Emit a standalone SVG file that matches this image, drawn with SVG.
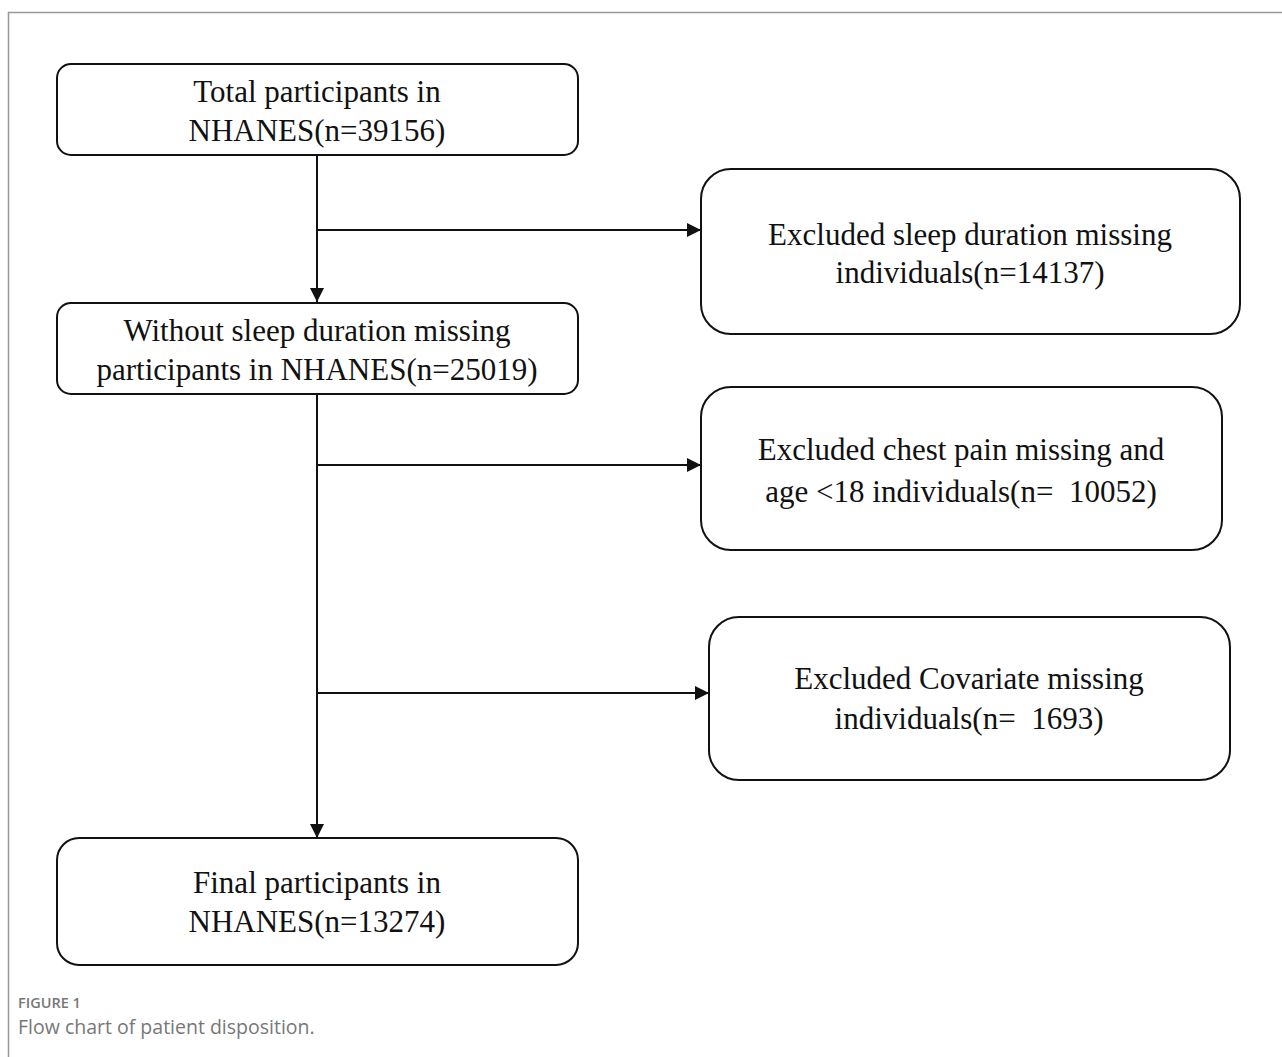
<svg xmlns="http://www.w3.org/2000/svg" width="1282" height="1057" viewBox="0 0 1282 1057" xml:space="preserve">
<style>
.box{fill:#fff;stroke:#111;stroke-width:2}
.t{font-family:"Liberation Serif","Times New Roman",serif;font-size:31px;fill:#111;text-anchor:middle;white-space:pre}
.c{stroke:#111;stroke-width:2;fill:none}
.cap1{font-family:"Open Sans","Noto Sans",sans-serif;font-size:14.5px;fill:#777;font-weight:600}
.cap2{font-family:"Open Sans","Noto Sans",sans-serif;font-size:19.5px;fill:#777}
</style>
<defs>
<marker id="arr" viewBox="0 0 10 10" refX="10" refY="5" markerWidth="15" markerHeight="14" markerUnits="userSpaceOnUse" orient="auto">
<path d="M0,0 L10,5 L0,10 z" fill="#111"/>
</marker>
</defs>
<rect width="1282" height="1057" fill="#fff"/>
<path d="M8.5,1057 V12.5 H1282" fill="none" stroke="#999" stroke-width="1.5"/>
<g id="connectors">
<line class="c" x1="317" y1="155" x2="317" y2="302" marker-end="url(#arr)"/>
<line class="c" x1="317" y1="230" x2="701" y2="230" marker-end="url(#arr)"/>
<line class="c" x1="317" y1="394" x2="317" y2="838" marker-end="url(#arr)"/>
<line class="c" x1="317" y1="465" x2="701" y2="465" marker-end="url(#arr)"/>
<line class="c" x1="317" y1="693" x2="709" y2="693" marker-end="url(#arr)"/>
</g>
<g id="n1">
<rect class="box" x="57" y="64" width="521" height="91" rx="14"/>
<text class="t" x="317" y="102">Total participants in</text>
<text class="t" x="317" y="141">NHANES(n=39156)</text>
</g>
<g id="n2">
<rect class="box" x="701" y="169" width="539" height="165" rx="30"/>
<text class="t" x="970" y="245">Excluded sleep duration missing</text>
<text class="t" x="970" y="283">individuals(n=14137)</text>
</g>
<g id="n3">
<rect class="box" x="57" y="303" width="521" height="91" rx="14"/>
<text class="t" x="317" y="341">Without sleep duration missing</text>
<text class="t" x="317" y="380">participants in NHANES(n=25019)</text>
</g>
<g id="n4">
<rect class="box" x="701" y="387" width="521" height="163" rx="30"/>
<text class="t" x="961" y="460">Excluded chest pain missing and</text>
<text class="t" x="961" y="502">age &lt;18 individuals(n=  10052)</text>
</g>
<g id="n5">
<rect class="box" x="709" y="617" width="521" height="163" rx="30"/>
<text class="t" x="969" y="689">Excluded Covariate missing</text>
<text class="t" x="969" y="729">individuals(n=  1693)</text>
</g>
<g id="n6">
<rect class="box" x="57" y="838" width="521" height="127" rx="22"/>
<text class="t" x="317" y="893">Final participants in</text>
<text class="t" x="317" y="932">NHANES(n=13274)</text>
</g>
<text class="cap1" x="18" y="1008">FIGURE 1</text>
<text class="cap2" x="18" y="1034">Flow chart of patient disposition.</text>
</svg>
